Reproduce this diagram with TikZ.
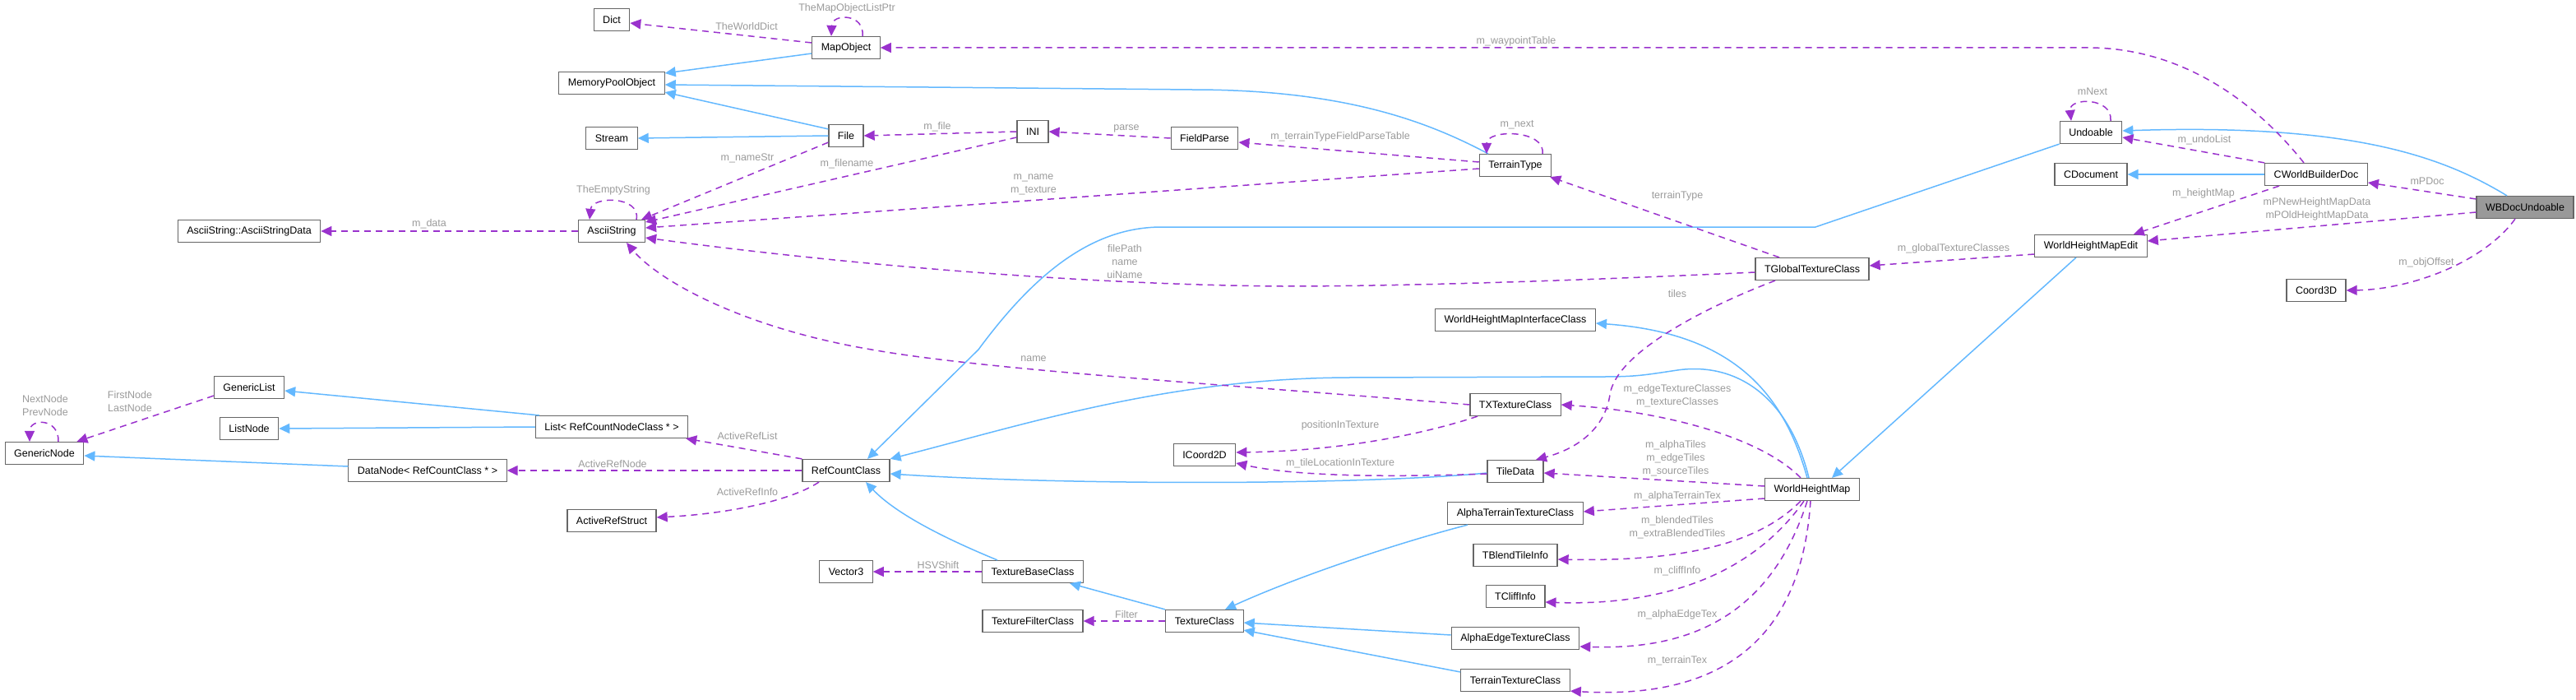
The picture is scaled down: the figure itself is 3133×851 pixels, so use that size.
\documentclass[tikz,border=0pt]{standalone}
\usepackage{fontspec}
\setmainfont{Liberation Sans}
\usetikzlibrary{arrows.meta}

\definecolor{boxgray}{HTML}{666666}
\definecolor{maingray}{HTML}{999999}
\definecolor{inhblue}{HTML}{63B8FF}
\definecolor{usepurple}{HTML}{9A32CD}
\definecolor{lblgray}{HTML}{9A9A9A}

\tikzset{
    cls/.style={draw=boxgray, fill=white, line width=1.2pt, minimum height=27pt,
        inner xsep=11pt, font=\fontsize{12.5}{15}\selectfont},
    clsmain/.style={cls, fill=maingray},
    inh/.style={draw=inhblue, line width=1.5pt, -{Triangle[length=13pt,width=12pt]}},
    use/.style={draw=usepurple, line width=1.5pt, dash pattern=on 8pt off 6pt,
        -{Triangle[length=13pt,width=12pt]}},
    lbl/.style={text=lblgray, inner sep=0pt, align=center,
        font=\fontsize{12.5}{16}\selectfont},
}

\begin{document}
\begin{tikzpicture}[x=1pt, y=-1pt]
    \useasboundingbox (0,0) rectangle (3133,851);

    % classes
    \node[cls] (dict) at (744,24) {Dict};
    \node[cls] (mapobj) at (1029,58) {MapObject};
    \node[cls] (mempool) at (744,101) {MemoryPoolObject};
    \node[cls] (stream) at (744,168) {Stream};
    \node[cls] (file) at (1029,165) {File};
    \node[cls] (ini) at (1256,160) {INI};
    \node[cls] (fieldparse) at (1465,168) {FieldParse};
    \node[cls] (terraintype) at (1843,201) {TerrainType};
    \node[cls] (asciidata) at (303,281) {AsciiString::AsciiStringData};
    \node[cls] (ascii) at (744,281) {AsciiString};
    \node[cls] (undoable) at (2543,161) {Undoable};
    \node[cls] (cdoc) at (2543,212) {CDocument};
    \node[cls] (wbdoc) at (2817,212) {CWorldBuilderDoc};
    \node[clsmain] (wbundo) at (3071,252) {WBDocUndoable};
    \node[cls] (hmedit) at (2543,299) {WorldHeightMapEdit};
    \node[cls] (coord3d) at (2817,353) {Coord3D};
    \node[cls] (globaltex) at (2204,327) {TGlobalTextureClass};
    \node[cls] (hminterface) at (1843,389) {WorldHeightMapInterfaceClass};
    \node[cls] (genlist) at (303,471) {GenericList};
    \node[cls] (listnode) at (303,521) {ListNode};
    \node[cls] (gennode) at (54,551) {GenericNode};
    \node[cls] (reflist) at (744,519) {List< RefCountNodeClass * >};
    \node[cls] (datanode) at (520,572) {DataNode< RefCountClass * >};
    \node[cls] (activeref) at (744,633) {ActiveRefStruct};
    \node[cls] (refcount) at (1029,572) {RefCountClass};
    \node[cls] (txtex) at (1843,492) {TXTextureClass};
    \node[cls] (icoord) at (1465,553) {ICoord2D};
    \node[cls] (tiledata) at (1843,573) {TileData};
    \node[cls] (heightmap) at (2204,595) {WorldHeightMap};
    \node[cls] (alphaterrain) at (1843,624) {AlphaTerrainTextureClass};
    \node[cls] (tblend) at (1843,675) {TBlendTileInfo};
    \node[cls] (tcliff) at (1843,725) {TCliffInfo};
    \node[cls] (alphaedge) at (1843,776) {AlphaEdgeTextureClass};
    \node[cls] (terraintex) at (1843,827) {TerrainTextureClass};
    \node[cls] (vector3) at (1029,695) {Vector3};
    \node[cls] (texbase) at (1256,695) {TextureBaseClass};
    \node[cls] (texfilter) at (1256,755) {TextureFilterClass};
    \node[cls] (texclass) at (1465,755) {TextureClass};

    % inheritance
    \draw[inh] ([yshift=-7pt]mapobj.west) -- ([yshift=12pt]mempool.east);
    \draw[inh] ([xshift=-33pt]terraintype.north) .. controls (1740,150) and (1640,109) .. (1450,109) -- ([yshift=-2pt]mempool.east);
    \draw[inh] ([yshift=-6pt]file.north west) -- ([yshift=3pt]mempool.south east);
    \draw[inh] (file.west) -- (stream.east);
    \draw[inh] ([xshift=-22pt]wbundo.north) .. controls (2970,190) and (2860,150) .. ([yshift=2pt]undoable.east);
    \draw[inh] (wbdoc.west) -- (cdoc.east);
    \draw[inh] (undoable.south west) -- (2208,276) -- (1413,276) .. controls (1330,276) and (1260,330) .. (1190,425) -- ([xshift=26pt]refcount.north);
    \draw[inh] ([xshift=-18pt]hmedit.south) -- ([xshift=24pt]heightmap.north);
    \draw[inh] ([xshift=-6pt]heightmap.north) .. controls (2170,480) and (2110,405) .. ([yshift=-4pt]hminterface.east);
    \draw[inh] ([xshift=-4pt]heightmap.north) .. controls (2175,480) and (2110,440) .. (2040,450) .. controls (2000,456) and (1990,458) .. (1950,458) -- (1640,459) .. controls (1420,460) and (1250,515) .. (refcount.north east);
    \draw[inh] ([yshift=-2pt]tiledata.west) .. controls (1650,590) and (1300,590) .. ([yshift=-4pt]refcount.east);
    \draw[inh] ([xshift=-43pt]texbase.north) .. controls (1150,655) and (1090,625) .. ([xshift=24pt]refcount.south);
    \draw[inh] ([xshift=-48pt]texclass.north) -- ([xshift=45pt]texbase.south);
    \draw[inh] ([xshift=-58pt]alphaterrain.south) .. controls (1700,660) and (1580,700) .. ([xshift=25pt]texclass.north);
    \draw[inh] ([yshift=4pt]alphaedge.west) -- ([yshift=-2pt]texclass.east);
    \draw[inh] ([yshift=10pt]terraintex.west) -- ([yshift=3pt]texclass.south east);
    \draw[inh] ([xshift=5pt]reflist.north west) -- ([yshift=-4pt]genlist.east);
    \draw[inh] (reflist.west) -- (listnode.east);
    \draw[inh] ([yshift=5pt]datanode.west) -- ([yshift=-3pt]gennode.east);

    % members
    \draw[use] ([yshift=6pt]mapobj.west) -- ([yshift=-4pt]dict.east);
    \node[lbl] (lWorldDict) at (908,32) {TheWorldDict};
    \draw[use] ([xshift=20pt]mapobj.north) .. controls (1052,16) and (1012,16) .. ([xshift=-18pt]mapobj.north);
    \node[lbl] (lMapList) at (1030,10) {TheMapObjectListPtr};
    \draw[use] ([xshift=-15pt]wbdoc.north) .. controls (2740,120) and (2650,58) .. (2540,58) -- (mapobj.east);
    \node[lbl] (lWaypoint) at (1844,50) {m\_waypointTable};

    \draw[use] (ascii.west) -- (asciidata.east);
    \node[lbl] (lData) at (522,272) {m\_data};
    \draw[use] ([xshift=30pt]ascii.north) .. controls (780,238) and (720,238) .. ([xshift=-27pt]ascii.north);
    \node[lbl] (lEmpty) at (746,231) {TheEmptyString};
    \draw[use] ([yshift=6pt]file.south west) -- ([xshift=-5pt]ascii.north east);
    \node[lbl] (lNameStr) at (909,192) {m\_nameStr};
    \draw[use] (ini.west) -- (file.east);
    \node[lbl] (lFile) at (1140,154) {m\_file};
    \draw[use] ([yshift=-7pt]ini.west) -- ([yshift=11pt]ascii.east);
    \node[lbl] (lFilename) at (1030,199) {m\_filename};
    \draw[use] (fieldparse.west) -- (ini.east);
    \node[lbl] (lParse) at (1370,156) {parse};
    \draw[use] ([yshift=4pt]terraintype.west) -- ([yshift=-5pt]fieldparse.east);
    \node[lbl] (lParseTable) at (1630,166) {m\_terrainTypeFieldParseTable};
    \draw[use] ([xshift=33pt]terraintype.north) .. controls (1880,157) and (1808,157) .. ([xshift=-35pt]terraintype.north);
    \node[lbl] (lNextTT) at (1845,152) {m\_next};
    \draw[use] ([yshift=-4pt]terraintype.west) -- ([yshift=4pt]ascii.east);
    \node[lbl] (lNameTex) at (1257,224) {m\_name\\m\_texture};

    \draw[use] ([xshift=-40pt]globaltex.north) -- ([xshift=-2pt]terraintype.south east);
    \node[lbl] (lTerrainType) at (2040,238) {terrainType};
    \draw[use] ([yshift=-4pt]globaltex.west) .. controls (1900,342) and (1700,348) .. (1560,348) .. controls (1300,346) and (1000,318) .. ([yshift=-8pt]ascii.east);
    \node[lbl] (lFilePath) at (1368,318) {filePath\\name\\uiName};
    \draw[use] ([xshift=-45pt]globaltex.south) .. controls (2070,375) and (1965,430) .. (1958,480) .. controls (1952,520) and (1920,545) .. ([xshift=25pt]tiledata.north);
    \node[lbl] (lTiles) at (2040,357) {tiles};

    \draw[use] ([yshift=-10pt]hmedit.west) -- ([yshift=4pt]globaltex.east);
    \node[lbl] (lGlobalTex) at (2376,302) {m\_globalTextureClasses};
    \draw[use] ([xshift=-45pt]wbdoc.south) -- ([xshift=-17pt]hmedit.north east);
    \node[lbl] (lHeightMap) at (2680,235) {m\_heightMap};
    \draw[use] (wbdoc.north west) -- ([yshift=-6pt]undoable.east);
    \node[lbl] (lUndoList) at (2681,170) {m\_undoList};
    \draw[use] ([xshift=24pt]undoable.north) .. controls (2570,118) and (2516,118) .. ([xshift=-24pt]undoable.north);
    \node[lbl] (lNext) at (2545,111) {mNext};

    \draw[use] ([yshift=10pt]wbundo.west) -- ([yshift=-10pt]wbdoc.east);
    \node[lbl] (lPDoc) at (2952,220) {mPDoc};
    \draw[use] ([yshift=-6pt]wbundo.west) -- ([yshift=6pt]hmedit.east);
    \node[lbl] (lHMData) at (2818,254) {mPNewHeightMapData\\mPOldHeightMapData};
    \draw[use] ([xshift=-12pt]wbundo.south) .. controls (3020,320) and (2930,352) .. (coord3d.east);
    \node[lbl] (lObjOffset) at (2951,319) {m\_objOffset};

    \draw[use] ([yshift=4pt]genlist.south west) -- ([xshift=-9pt]gennode.north east);
    \node[lbl] (lFirstLast) at (158,488) {FirstNode\\LastNode};
    \draw[use] ([xshift=17pt]gennode.north) .. controls (72,508) and (36,508) .. ([xshift=-18pt]gennode.north);
    \node[lbl] (lNextPrev) at (55,493) {NextNode\\PrevNode};

    \draw[use] (refcount.north west) -- ([xshift=-3pt]reflist.south east);
    \node[lbl] (lRefList) at (909,530) {ActiveRefList};
    \draw[use] (refcount.west) -- (datanode.east);
    \node[lbl] (lRefNode) at (745,564) {ActiveRefNode};
    \draw[use] ([xshift=-33pt]refcount.south) .. controls (960,610) and (880,625) .. ([yshift=4pt]activeref.east);
    \node[lbl] (lRefInfo) at (909,598) {ActiveRefInfo};

    \draw[use] (txtex.west) .. controls (1500,468) and (1200,450) .. (1060,425) .. controls (900,398) and (800,340) .. ([xshift=18pt]ascii.south);
    \node[lbl] (lName) at (1257,436) {name};
    \draw[use] ([xshift=-46pt]txtex.south) .. controls (1740,525) and (1640,548) .. ([yshift=3pt]icoord.east);
    \node[lbl] (lPosTex) at (1630,517) {positionInTexture};
    \draw[use] ([yshift=-3pt]tiledata.west) .. controls (1700,580) and (1580,580) .. ([yshift=-10pt]icoord.east);
    \node[lbl] (lTileLoc) at (1630,563) {m\_tileLocationInTexture};

    \draw[use] ([xshift=-14pt]heightmap.north) .. controls (2140,530) and (2020,500) .. (txtex.east);
    \node[lbl] (lTexClasses) at (2040,481) {m\_edgeTextureClasses\\m\_textureClasses};
    \draw[use] ([yshift=4pt]heightmap.west) -- ([yshift=-2pt]tiledata.east);
    \node[lbl] (lTiles3) at (2038,557) {m\_alphaTiles\\m\_edgeTiles\\m\_sourceTiles};
    \draw[use] ([yshift=-11pt]heightmap.west) -- ([yshift=2pt]alphaterrain.east);
    \node[lbl] (lAlphaTerrain) at (2040,603) {m\_alphaTerrainTex};
    \draw[use] ([xshift=-14pt]heightmap.south) .. controls (2140,660) and (2050,683) .. ([yshift=-5pt]tblend.east);
    \node[lbl] (lBlend) at (2040,641) {m\_blendedTiles\\m\_extraBlendedTiles};
    \draw[use] ([xshift=-10pt]heightmap.south) .. controls (2130,700) and (2020,737) .. ([yshift=-7pt]tcliff.east);
    \node[lbl] (lCliff) at (2040,694) {m\_cliffInfo};
    \draw[use] ([xshift=-6pt]heightmap.south) .. controls (2150,760) and (2040,790) .. ([yshift=-10pt]alphaedge.east);
    \node[lbl] (lAlphaEdge) at (2040,747) {m\_alphaEdgeTex};
    \draw[use] ([xshift=-2pt]heightmap.south) .. controls (2190,790) and (2080,850) .. ([yshift=1pt]terraintex.south east);
    \node[lbl] (lTerrainTex) at (2040,803) {m\_terrainTex};

    \draw[use] (texbase.west) -- (vector3.east);
    \node[lbl] (lHSV) at (1141,687) {HSVShift};
    \draw[use] (texclass.west) -- (texfilter.east);
    \node[lbl] (lFilter) at (1370,747) {Filter};
\end{tikzpicture}
\end{document}
